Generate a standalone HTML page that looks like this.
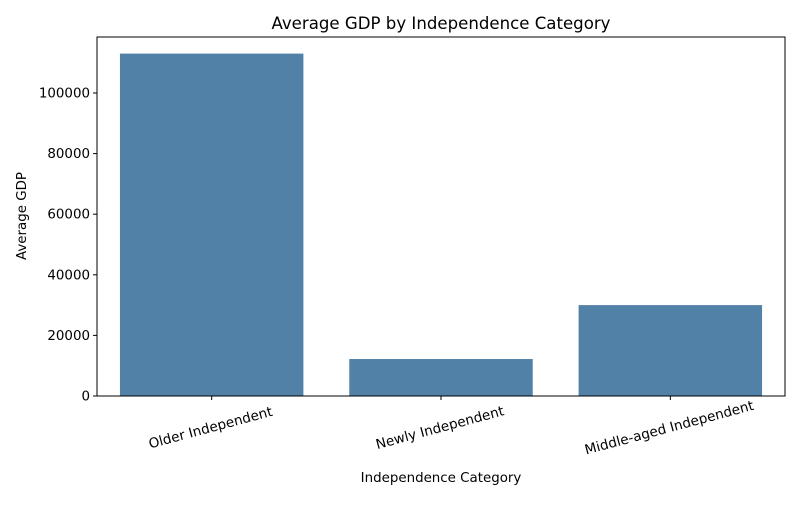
<!DOCTYPE html>
<html><head><meta charset="utf-8"><style>
body{margin:0;background:#fff;}
svg text{font-family:"DejaVu Sans","Liberation Sans",sans-serif;fill:#000;}
</style></head><body>
<svg id="chart" width="800" height="500" xmlns="http://www.w3.org/2000/svg">
<rect width="800" height="500" fill="#fff"/>
<text x="441" y="29" font-size="16.6" text-anchor="middle">Average GDP by Independence Category</text>
<g id="marks"></g>
<rect x="97" y="37" width="688" height="359" fill="none" stroke="#000" stroke-width="1"/>
<text x="441" y="482" font-size="13.4" text-anchor="middle">Independence Category</text>
<text transform="translate(26,216) rotate(-90)" font-size="13.4" text-anchor="middle">Average GDP</text>
</svg>
<script>
const categories = ["Older Independent","Newly Independent","Middle-aged Independent"];
const values = [113000, 12200, 30000];
const yTicks = [0,20000,40000,60000,80000,100000];

const L=97,R=785,T=37,B=396;
const ns="http://www.w3.org/2000/svg";
const g=document.getElementById('marks');
const svg=document.getElementById('chart');
const yScale=v=>B-(v/100000)*(B-93);
const band=(R-L)/categories.length;
const xCenter=i=>L+band*(i+0.5);
function mk(tag,attrs,parent){const e=document.createElementNS(ns,tag);for(const k in attrs)e.setAttribute(k,attrs[k]);(parent||g).appendChild(e);return e;}

categories.forEach((c,i)=>{
  const bw=band*0.8;
  const r=mk('rect',{x:xCenter(i)-bw/2,y:yScale(values[i]),width:bw,height:B-yScale(values[i]),fill:'#5181a7'});
  
  
  const tk=mk('line',{x1:xCenter(i),x2:xCenter(i),y1:B,y2:B+4,stroke:'#000'},svg);
  
  
  const t=mk('text',{transform:`translate(${xCenter(i)},${B+36}) rotate(-15)`,'font-size':13.6,'text-anchor':'middle'},svg);
  t.textContent=c;
  
  
});
yTicks.forEach(v=>{
  const y=yScale(v);
  const tk=mk('line',{x1:L-4,x2:L,y1:y,y2:y,stroke:'#000'},svg);
  
  
  const t=mk('text',{x:L-7,y:y+4.5,'font-size':13.4,'text-anchor':'end'},svg);
  t.textContent=v;
  
  
});
</script>
</body></html>
